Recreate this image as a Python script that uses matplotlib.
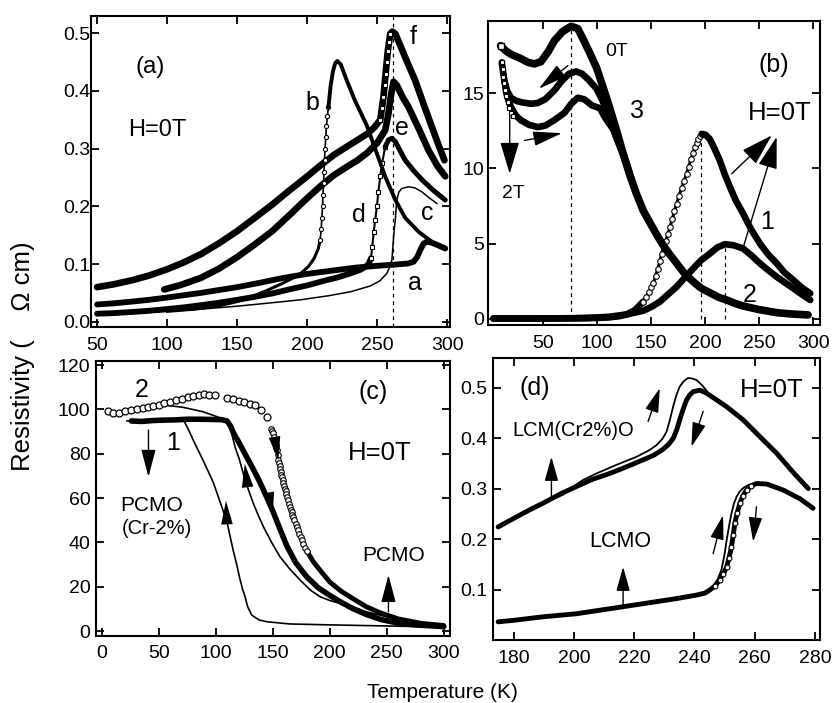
import numpy as np
import matplotlib.pyplot as plt

plt.rcParams['font.family'] = ['Liberation Sans', 'DejaVu Sans']

# ---------------- panel (a): rho (Ohm cm) vs T ----------------
a_f = np.array([[50, 0.060], [62, 0.065], [75, 0.072], [87, 0.080], [100, 0.091],
                [112, 0.103], [124, 0.117], [137, 0.136], [150, 0.157], [162, 0.179],
                [175, 0.203], [187, 0.227], [199, 0.250], [210, 0.272], [219, 0.289],
                [228, 0.303], [236, 0.315], [243, 0.326], [248, 0.337], [252.2, 0.350],
                [254.5, 0.39], [256, 0.43], [257.6, 0.47], [259.3, 0.499],
                [260.8, 0.503], [263, 0.499], [268, 0.470], [272, 0.447], [277, 0.419],
                [283, 0.378], [289, 0.338], [294, 0.305], [298, 0.280]])
a_f_sq = np.array([[252.2, 0.35], [253.5, 0.37], [254.5, 0.39], [255.3, 0.41], [256, 0.43],
                   [256.8, 0.45], [257.6, 0.47], [258.4, 0.485], [259.3, 0.499]])
a_e = np.array([[98, 0.056], [110, 0.064], [124, 0.076], [137, 0.092], [150, 0.112],
                [162, 0.133], [175, 0.157], [187, 0.184], [199, 0.212], [210, 0.236],
                [219, 0.254], [228, 0.268], [236, 0.280], [243, 0.293], [250, 0.310],
                [255.7, 0.332], [258, 0.36], [260, 0.395], [261.7, 0.416],
                [264, 0.410], [268, 0.390], [272.4, 0.372], [280, 0.333], [286.7, 0.297],
                [293, 0.270], [298.6, 0.252]])
a_d_low = np.array([[50, 0.014], [62, 0.015], [75, 0.017], [87, 0.019], [100, 0.022],
                    [112, 0.025], [125, 0.029], [137, 0.033], [150, 0.038], [162, 0.043],
                    [175, 0.049], [187, 0.056], [200, 0.063], [212, 0.071], [222, 0.077],
                    [231, 0.084], [238, 0.090], [242, 0.096], [244, 0.101], [245.5, 0.110]])
a_d_sq = np.array([[245.5, 0.110], [246.5, 0.13], [247.5, 0.155], [248.6, 0.177],
                   [249.8, 0.20], [250.8, 0.225], [252.2, 0.252], [253.5, 0.275],
                   [255.7, 0.303]])
a_d_high = np.array([[255.7, 0.303], [258, 0.315], [260.5, 0.318], [263, 0.312], [266, 0.298],
                     [270, 0.280], [276, 0.262], [282, 0.246], [290, 0.228], [298.6, 0.211]])
a_c = np.array([[50, 0.012], [75, 0.015], [100, 0.018], [125, 0.022], [150, 0.027],
                [175, 0.033], [195, 0.038], [215, 0.045], [231, 0.052], [245, 0.062],
                [252, 0.071], [256.9, 0.084], [259, 0.095], [260.5, 0.107],
                [261.8, 0.15], [262.9, 0.176], [264, 0.211], [265.5, 0.225], [267.6, 0.231],
                [272.4, 0.234], [277, 0.232], [282, 0.225], [287, 0.215], [292.6, 0.205]])
a_b_low = np.array([[100, 0.018], [120, 0.022], [138, 0.028], [150, 0.035], [162, 0.045],
                    [172, 0.055], [181, 0.065], [190, 0.076], [196, 0.085], [201, 0.096],
                    [205, 0.110], [208, 0.127], [209.3, 0.142]])
a_b_steep = np.array([[209.3, 0.142], [210, 0.16], [210.5, 0.18], [211, 0.20], [211.3, 0.22],
                      [211.7, 0.24], [212, 0.26], [212.4, 0.28], [212.8, 0.30], [213.3, 0.32],
                      [213.8, 0.34], [214.5, 0.357], [215.2, 0.372]])
a_b_high = np.array([[215.2, 0.372], [216.8, 0.41], [218.5, 0.435], [220, 0.448],
                     [221.5, 0.452], [224, 0.446], [228, 0.420], [234, 0.384], [242.6, 0.340],
                     [250, 0.290], [256, 0.250], [263, 0.211], [270, 0.180], [280, 0.155],
                     [290, 0.137], [298, 0.127]])
a_a = np.array([[50, 0.030], [62, 0.032], [75, 0.035], [87, 0.038], [100, 0.042],
                [112, 0.046], [124, 0.050], [137, 0.055], [150, 0.060], [165, 0.067],
                [183, 0.076], [200, 0.083], [219, 0.089], [235, 0.094], [250, 0.097],
                [262, 0.099], [272, 0.101], [276, 0.104], [278.5, 0.112], [280.7, 0.124],
                [283, 0.135], [285.5, 0.139], [289, 0.137], [294, 0.132], [298.6, 0.127]])
a_tc = 261

# ---------------- panel (b) ----------------
b_top = np.array([[10.6, 18.16], [15, 17.85], [20, 17.6], [29.6, 17.3], [36, 17.05],
                  [42, 16.95], [48, 17.1], [55, 17.8], [60.5, 18.5], [68, 19.1],
                  [75.9, 19.45], [82, 19.3], [87, 18.6], [93, 17.7], [99.4, 16.7],
                  [105, 15.5], [111.7, 14.0], [118, 12.5], [124, 11.0], [130, 9.6],
                  [136.4, 8.3], [142.6, 7.2], [148.8, 6.4], [155, 5.6], [161, 4.9],
                  [167, 4.3], [173.5, 3.7], [181, 3.0], [189, 2.47], [196, 2.05],
                  [204, 1.75], [212, 1.45], [219.8, 1.26], [227, 1.05], [235, 0.86],
                  [250, 0.62], [266, 0.42], [280, 0.33], [295, 0.27]])
b_mid = np.array([[11.8, 17.05], [13, 16.4], [14.3, 15.8], [17, 15.1], [20.4, 14.7],
                  [25, 14.5], [30, 14.4], [38.8, 14.3], [45, 14.35], [52, 14.6],
                  [60.5, 15.2], [67, 15.8], [74, 16.3], [80.6, 16.45], [86, 16.3],
                  [92, 15.9], [99.4, 15.3], [105, 14.5], [111.7, 13.3], [118, 12.0],
                  [124, 10.9], [130, 9.6]])
b_bot = np.array([[14.3, 15.8], [16, 15.0], [18, 14.5], [20.4, 14.05], [25, 13.5],
                  [29.6, 13.2], [37, 12.9], [45, 12.75], [52, 12.85], [60, 13.2],
                  [69.8, 13.7], [76, 14.3], [82, 14.7], [88, 14.6], [95, 14.2],
                  [102.5, 14.0], [108, 13.3], [114.8, 12.6], [121, 11.5], [127, 10.4],
                  [133, 9.0]])
b_sq = np.array([[11.8, 17.05], [12.5, 16.6], [13.2, 16.1], [14, 15.7], [15, 15.2],
                 [16, 14.8], [17.3, 14.4], [18.7, 14.0], [20, 13.7], [22, 13.5]])
b_1_low = np.array([[4, 0.03], [30, 0.03], [60, 0.04], [90, 0.05], [110, 0.10], [120, 0.18],
                    [127.2, 0.30], [135, 0.60], [142.6, 1.15]])
b_1_rise = np.array([[142.6, 1.15], [145, 1.45], [148, 1.8], [150, 2.1], [151.9, 2.36],
                     [154, 2.85], [156, 3.3], [158, 3.85], [159.6, 4.35], [161.5, 4.75],
                     [163.5, 5.2], [165.5, 5.65], [167.3, 6.12], [169.5, 6.65], [171.5, 7.15],
                     [173.5, 7.67], [175.8, 8.2], [178, 8.7], [180.5, 9.2], [182.7, 9.65],
                     [184.6, 10.1], [186.5, 10.6], [188.5, 11.0], [190.4, 11.42],
                     [192, 11.7], [193.5, 11.95], [195, 12.15], [196.6, 12.3]])
b_1_high = np.array([[196.6, 12.3], [200, 12.25], [204, 11.97], [208, 11.4], [213.6, 10.5],
                     [218, 9.6], [222.8, 8.77], [228, 7.9], [235, 7.0], [242, 6.0],
                     [250.6, 5.0], [258, 4.3], [266, 3.7], [273, 3.1], [281.5, 2.58],
                     [289, 2.1], [297, 1.7]])
b_2 = np.array([[4, 0.03], [40, 0.03], [80, 0.05], [100, 0.10], [111.7, 0.15], [127, 0.30],
                [142.6, 0.55], [150, 0.80], [158, 1.15], [165, 1.6], [173.5, 2.14],
                [181, 2.75], [188.9, 3.36], [196, 3.9], [204.3, 4.35], [211, 4.75],
                [218.2, 4.97], [226, 4.9], [235, 4.68], [243, 4.2], [250.6, 3.69],
                [258, 3.25], [266, 2.8], [274, 2.4], [281.5, 2.03], [289, 1.65], [297, 1.26]])
b_peaks_T = [76, 196, 218]
b_peaks_rho = [19.4, 12.25, 4.95]

# ---------------- panel (c) ----------------
c_2_circ = np.array([[5.2, 99.4], [10.2, 98.2], [15.5, 98.6], [20.7, 99.2], [25.7, 99.7],
                     [30.7, 100.1], [35.9, 100.7], [40.9, 101.2], [45.3, 101.6], [50.5, 102.2],
                     [54.9, 102.7], [59.9, 103.4], [65.2, 104.2], [70.4, 104.8], [75.4, 105.4],
                     [80.4, 106.0], [85.1, 106.4], [89.4, 106.9], [94.4, 106.6], [99.4, 106.4],
                     [109.6, 105.3], [114.9, 104.7], [120.1, 103.9], [125.1, 103.3],
                     [130.1, 102.5], [134.8, 101.8], [139.7, 99.7], [144.7, 96.4]])
c_2_steep = np.array([[148.5, 91.4], [149.3, 90.3], [150, 89.2], [150.8, 87.7], [151.5, 86.2],
                      [152, 85.1], [152.5, 84], [153, 82.8], [153.5, 81.7], [154.3, 79.3],
                      [155, 77], [155.5, 75.7], [156, 74.5], [156.5, 73.2], [157, 72],
                      [157.6, 70.6], [158.2, 69.3], [158.8, 68], [159.4, 66.6], [160, 65.4],
                      [160.7, 64.2], [161.3, 63.1], [162, 62], [162.8, 60.5], [163.6, 59],
                      [164.4, 57.5], [165.2, 56], [165.9, 54.8], [166.6, 53.7], [167.3, 52.6],
                      [168, 51.6], [169, 50], [170, 48.5], [171, 47], [172, 45.5],
                      [173.2, 44], [174.4, 42.5], [175.6, 41], [176.9, 39.5], [178.5, 37.7],
                      [180, 36]])
c_2_line = np.array([[180, 36], [186, 31], [193, 26.5], [200.3, 22], [210, 18], [220.7, 14.5],
                     [232, 11], [244, 8.3], [260, 5.5], [280, 3.5], [300, 2.5]])
c_1 = np.array([[26, 94.8], [35, 94.6], [45, 95.0], [55, 95.2], [65, 95.3], [75, 95.6],
                [85, 95.6], [95, 95.5], [105, 95.4], [110, 94.8], [113, 92.5], [115.5, 89.5],
                [121, 84.5], [127.2, 78.5], [133, 73], [138.9, 67], [144.7, 60.5],
                [150.6, 53.5], [156.4, 46], [162.3, 38.5], [170, 31], [179.8, 24.5],
                [190, 19.5], [200.3, 16], [210, 13], [220, 10.2], [232, 7.5], [245, 5.2],
                [260, 3.6], [275, 2.8], [300, 2.0]])
c_pcmo_thin = np.array([[5, 99], [7.5, 97.8], [10, 97.3], [15, 98.3], [24, 99.5], [39, 101],
                        [56, 101.9], [71, 101], [88.6, 99], [103, 96.4], [110.5, 94.9],
                        [113, 91], [117, 83], [120.7, 77.5], [124.2, 71], [128.5, 64],
                        [133, 57.6], [137.5, 52], [141.8, 47.1], [149, 40], [156.4, 33.5],
                        [165, 28], [174, 23], [183, 18.5], [191.5, 15.5], [200, 13.8],
                        [209, 12.5], [220, 11], [232, 8.7], [244, 7.2], [260, 5.2],
                        [280, 3.3], [300, 2.2]])
c_cr = np.array([[72, 95], [76, 91], [80.4, 86], [88, 78], [93, 72.5], [97.9, 67],
                 [102, 61], [106, 55], [109.6, 50], [112.5, 43], [115.5, 36], [118.4, 30],
                 [121, 24], [123.5, 19], [125.7, 15.5], [128, 11], [131.6, 7.2], [138, 5.0],
                 [145, 4.2], [165, 3.2], [200, 2.8], [250, 2.3], [300, 1.8]])

# ---------------- panel (d) ----------------
d_lcm_thick = np.array([[174.8, 0.224], [180, 0.241], [185, 0.257], [190, 0.272],
                        [196, 0.291], [200.8, 0.304], [206, 0.318], [211.9, 0.330],
                        [217, 0.342], [223, 0.357], [226.5, 0.366], [229.6, 0.378],
                        [231.5, 0.388], [233, 0.400], [234.2, 0.418], [235.1, 0.436],
                        [236.3, 0.458], [237.4, 0.476], [238.5, 0.486], [239.6, 0.492],
                        [241.8, 0.495], [244, 0.489], [247, 0.477], [250.7, 0.462],
                        [256.2, 0.436], [261.7, 0.403], [267.3, 0.370], [272.8, 0.332],
                        [277.8, 0.300]])
d_lcm_thin = np.array([[193, 0.279], [196.4, 0.288], [200, 0.305], [203, 0.317],
                       [207.5, 0.330], [214.1, 0.347], [220.8, 0.363], [225, 0.376],
                       [227.4, 0.386], [229.3, 0.398], [230.7, 0.412], [231.8, 0.435],
                       [232.9, 0.462], [234, 0.485], [235.1, 0.502], [236.5, 0.513],
                       [237.9, 0.519], [239.3, 0.518], [240.7, 0.515], [242.5, 0.505],
                       [244, 0.494]])
d_lcmo = np.array([[174.8, 0.036], [180, 0.039], [189.7, 0.046], [200.8, 0.052],
                   [211.9, 0.062], [223, 0.072], [234, 0.082], [240.7, 0.089],
                   [243.5, 0.093], [245.1, 0.099], [246.8, 0.107], [248.4, 0.119],
                   [249.6, 0.131], [250.7, 0.145], [251.5, 0.163], [252.3, 0.185],
                   [252.9, 0.208], [253.4, 0.231], [254.2, 0.252], [255.1, 0.271],
                   [256.1, 0.286], [257.3, 0.297], [258.8, 0.305], [260.6, 0.310],
                   [264, 0.309], [269.5, 0.297], [275, 0.280], [279.4, 0.261]])
d_lcmo_circ = d_lcmo[10:23]
d_lcmo_thin = np.array([[240.7, 0.089], [242.9, 0.093], [244.8, 0.100], [246.2, 0.107],
                        [247.7, 0.120], [249, 0.140], [250, 0.170], [250.7, 0.198],
                        [251.5, 0.226], [252.3, 0.251], [253.1, 0.270], [254, 0.284],
                        [255, 0.294], [256.2, 0.301], [257.8, 0.307], [259.5, 0.310],
                        [261, 0.311]])

LW_THICK = 4.8


def style(ax, ypad):
    ax.tick_params(direction='in', top=True, right=True, length=6, width=1.3,
                   labelsize=14)
    ax.tick_params(axis='x', pad=7)
    ax.tick_params(axis='y', pad=ypad)
    for s in ax.spines.values():
        s.set_linewidth(1.5)


def arrow(ax, base, tip, hl=1.6, hw=0.45, lw=1.0):
    ax.annotate('', xy=tip, xytext=base,
                arrowprops=dict(arrowstyle=f'-|>,head_length={hl},head_width={hw}',
                                mutation_scale=10, lw=lw, color='k',
                                shrinkA=0, shrinkB=0))


def thick(ax, arr, lw=LW_THICK):
    ax.plot(arr[:, 0], arr[:, 1], 'k-', lw=lw, solid_capstyle='round',
            solid_joinstyle='round')


fig = plt.figure(figsize=(8.32, 7.03), dpi=100)

# ---- (a) ----
ax = fig.add_axes([0.1094, 0.5349, 0.4315, 0.4424])
ax.axvline(a_tc, color='k', lw=0.9, ls=(0, (3, 3)))
thick(ax, a_f)
ax.plot(a_f_sq[:, 0], a_f_sq[:, 1], 'ks', ms=3.5, mfc='white', mew=0.8)
thick(ax, a_e)
thick(ax, a_d_low, 4.2)
ax.plot(a_d_sq[:, 0], a_d_sq[:, 1], 'k-', lw=1.5)
ax.plot(a_d_sq[:, 0], a_d_sq[:, 1], 'ks', ms=3.5, mfc='white', mew=0.8)
thick(ax, a_d_high, 3.6)
ax.plot(a_c[:, 0], a_c[:, 1], 'k-', lw=1.1)
thick(ax, a_b_low, 2.2)
ax.plot(a_b_steep[:, 0], a_b_steep[:, 1], 'k-', lw=1.2)
ax.plot(a_b_steep[:, 0], a_b_steep[:, 1], 'ko', ms=3, mfc='white', mew=0.8)
thick(ax, a_b_high, 2.8)
thick(ax, a_a, 4.2)
ax.set_xlim(45.7, 302)
ax.set_ylim(-0.009, 0.53)
ax.set_xticks([50, 100, 150, 200, 250, 300])
ax.set_yticks([0.0, 0.1, 0.2, 0.3, 0.4, 0.5])
ax.set_yticklabels(['0.0', '0.1', '0.2', '0.3', '0.4', '0.5'])
style(ax, 0.5)
ax.text(88, 0.442, '(a)', fontsize=17.5, ha='center', va='center')
ax.text(93, 0.332, 'H=0T', fontsize=17, ha='center', va='center')
for lab, tx, ty in [('b', 204, 0.379), ('d', 237, 0.185), ('e', 267.6, 0.335),
                    ('f', 276, 0.494), ('c', 285.5, 0.188), ('a', 277, 0.067)]:
    ax.text(tx, ty, lab, fontsize=18, ha='center', va='center')

# ---- (b) ----
ax = fig.add_axes([0.5865, 0.5377, 0.3990, 0.4324])
ax.vlines(b_peaks_T, 0, b_peaks_rho, colors='k', lw=0.9, linestyles=(0, (3, 3)))
thick(ax, b_1_low)
ax.plot(b_1_rise[:, 0], b_1_rise[:, 1], 'k-', lw=2.2)
ax.plot(b_1_rise[:, 0], b_1_rise[:, 1], 'o', color='k', ms=4, mfc='white', mew=0.8)
thick(ax, b_1_high)
thick(ax, b_2)
thick(ax, b_bot)
thick(ax, b_mid)
thick(ax, b_top, 5.5)
ax.plot(b_sq[:, 0], b_sq[:, 1], 'ks', ms=3.5, mfc='white', mew=0.8)
ax.plot(b_top[:1, 0], b_top[:1, 1], 'ks', ms=5, mfc='white', mew=1)
ax.set_xlim(-1, 306)
ax.set_ylim(-0.4, 19.8)
ax.set_xticks([50, 100, 150, 200, 250, 300])
ax.set_yticks([0, 5, 10, 15])
style(ax, 3)
arrow(ax, (224.4, 9.65), (261.4, 12.2), hl=2.0, hw=0.6)
arrow(ax, (235.2, 4.79), (266, 12.1), hl=2.0, hw=0.6)
arrow(ax, (19.1, 13.5), (19.1, 9.65), hl=2.0, hw=0.6)
arrow(ax, (72.9, 16.83), (46, 15.3), hl=1.8, hw=0.45)
arrow(ax, (32.8, 11.86), (67.5, 12.35), hl=1.8, hw=0.45)
ax.text(118, 17.8, '0T', fontsize=14, ha='center', va='center')
ax.text(22.2, 8.33, '2T', fontsize=14, ha='center', va='center')
ax.text(263, 16.9, '(b)', fontsize=18, ha='center', va='center')
ax.text(269, 13.7, 'H=0T', fontsize=18.5, ha='center', va='center')
ax.text(136.5, 13.85, '3', fontsize=18, ha='center', va='center')
ax.text(256.8, 6.45, '1', fontsize=18, ha='center', va='center')
ax.text(241, 1.59, '2', fontsize=18, ha='center', va='center')

# ---- (c) ----
ax = fig.add_axes([0.1154, 0.0957, 0.4255, 0.3912])
ax.plot(c_cr[:, 0], c_cr[:, 1], 'k-', lw=1.2)
ax.plot(c_pcmo_thin[:, 0], c_pcmo_thin[:, 1], 'k-', lw=1.2)
thick(ax, c_1, 4)
ax.plot([22, 30], [94.8, 94.8], 'k-', lw=1.2)
thick(ax, c_2_line, 3.5)
ax.plot(c_2_circ[:, 0], c_2_circ[:, 1], 'o', color='k', ms=5, mfc='white', mew=0.9)
ax.plot(c_2_steep[:, 0], c_2_steep[:, 1], 'o', color='k', ms=4, mfc='white', mew=0.8)
ax.set_xlim(-5, 305.5)
ax.set_ylim(-2.1, 122)
ax.set_xticks([0, 50, 100, 150, 200, 250, 300])
ax.set_yticks([0, 20, 40, 60, 80, 100, 120])
style(ax, 4)
arrow(ax, (41, 90.7), (41, 69.6), hl=1.7, hw=0.45)
arrow(ax, (251.5, 8.7), (251.5, 25.3), hl=1.7, hw=0.45)
arrow(ax, (109.7, 50), (109, 58.8), hl=1.7, hw=0.42, lw=0)
arrow(ax, (127.5, 67), (125.5, 75.5), hl=1.7, hw=0.42, lw=0)
arrow(ax, (146.5, 61.5), (150, 52), hl=1.7, hw=0.42, lw=0)
arrow(ax, (152, 86.2), (155, 77.1), hl=1.7, hw=0.42, lw=0)
ax.text(35, 108.7, '2', fontsize=18, ha='center', va='center')
ax.text(63, 84.7, '1', fontsize=18, ha='center', va='center')
ax.text(238.3, 108, '(c)', fontsize=18, ha='center', va='center')
ax.text(244, 80.2, 'H=0T', fontsize=18.5, ha='center', va='center')
ax.text(43.9, 56.8, 'PCMO', fontsize=15, ha='center', va='center')
ax.text(48.2, 46.3, '(Cr-2%)', fontsize=14.5, ha='center', va='center')
ax.text(255.8, 34.3, 'PCMO', fontsize=15, ha='center', va='center')

# ---- (d) ----
ax = fig.add_axes([0.5922, 0.0896, 0.3934, 0.4007])
ax.plot(d_lcm_thin[:, 0], d_lcm_thin[:, 1], 'k-', lw=1.3)
thick(ax, d_lcm_thick, 3.5)
ax.plot(d_lcmo_thin[:, 0], d_lcmo_thin[:, 1], 'k-', lw=1.3)
thick(ax, d_lcmo, 3.5)
ax.plot(d_lcmo_circ[:, 0], d_lcmo_circ[:, 1], 'o', color='k', ms=3.5, mfc='white', mew=0.8)
ax.set_xlim(173, 281.7)
ax.set_ylim(0.0, 0.558)
ax.set_xticks([180, 200, 220, 240, 260, 280])
ax.set_yticks([0.1, 0.2, 0.3, 0.4, 0.5])
style(ax, 4)
arrow(ax, (224.6, 0.433), (228.5, 0.499), hl=1.5, hw=0.42)
arrow(ax, (242.9, 0.453), (239, 0.383), hl=1.5, hw=0.42)
arrow(ax, (192.5, 0.28), (192.5, 0.363), hl=1.5, hw=0.42)
arrow(ax, (216.3, 0.066), (216.3, 0.145), hl=1.5, hw=0.42)
arrow(ax, (246.2, 0.171), (249.5, 0.247), hl=1.5, hw=0.42)
arrow(ax, (260.6, 0.264), (259.5, 0.195), hl=1.5, hw=0.42)
ax.text(187, 0.499, '(d)', fontsize=18, ha='center', va='center')
ax.text(265.6, 0.496, 'H=0T', fontsize=18.5, ha='center', va='center')
ax.text(199.7, 0.416, 'LCM(Cr2%)O', fontsize=14.5, ha='center', va='center')
ax.text(215.2, 0.195, 'LCMO', fontsize=15.5, ha='center', va='center')

fig.text(442 / 832, 1 - 692 / 703, 'Temperature (K)', fontsize=15, ha='center', va='center')
fig.text(23 / 832, 1 - 356 / 703, 'Resistivity (    \u03a9 cm)', fontsize=18.5,
         rotation=90, ha='center', va='center')

fig.savefig('out.png', dpi=100)
